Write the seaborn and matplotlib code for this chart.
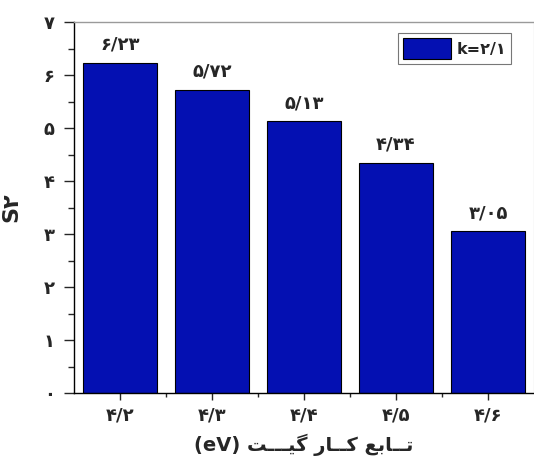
import matplotlib
matplotlib.use("Agg")
import matplotlib.pyplot as plt
from matplotlib.ticker import MultipleLocator
import seaborn as sns
import pandas as pd

# Gate work function (eV) and the S2 value at k = 2.1
work_function = [4.2, 4.3, 4.4, 4.5, 4.6]
s2_values = [6.23, 5.72, 5.13, 4.34, 3.05]
y_ticks = [0, 1, 2, 3, 4, 5, 6, 7]
legend_k = 2.1

FA_DIGITS = str.maketrans("0123456789.", "۰۱۲۳۴۵۶۷۸۹/")


def fa(value):
    """Write a number with Persian digits and a slash as decimal mark."""
    return str(value).translate(FA_DIGITS)


# "تابع کار گیت (eV)" as shaped presentation forms in left-to-right visual order
x_title = "(eV) " + \
    "\uFE96\u0640\u0640\u0640\uFBFF\uFB94" + " " + \
    "\uFEAD\uFE8E\u0640\u0640\uFB90" + " " + \
    "\uFECA\uFE91\uFE8E\u0640\u0640\uFE97"

df = pd.DataFrame({"wf": [fa(v) for v in work_function], "s2": s2_values})

sns.set_style("ticks")
plt.rcParams["font.family"] = ["DejaVu Sans"]
plt.rcParams["font.weight"] = "bold"

fig = plt.figure(figsize=(5.34, 4.59), dpi=100)
ax = fig.add_axes([74 / 534, 1 - 393 / 459, 460 / 534, 371 / 459])

sns.barplot(data=df, x="wf", y="s2", color="#0410B2", saturation=1,
            edgecolor="black", linewidth=0.8, width=0.8,
            label="k=" + fa(legend_k), ax=ax)

for i, v in enumerate(s2_values):
    ax.text(i, v + 0.17, fa(v), ha="center", va="bottom",
            fontsize=13, fontweight="bold")

ax.set_xlim(-0.5, 4.5)
ax.set_ylim(0, 7)
ax.set_yticks(y_ticks)
ax.set_yticklabels([fa(t) for t in y_ticks], fontsize=13, fontweight="bold")
ax.yaxis.set_minor_locator(MultipleLocator(0.5))
ax.set_xticks(range(len(work_function)))
ax.set_xticklabels(df["wf"], fontsize=13, fontweight="bold")
ax.set_xticks([i + 0.5 for i in range(len(work_function) - 1)], minor=True)

ax.tick_params(axis="y", which="major", direction="out", length=7, width=1, pad=7)
ax.tick_params(axis="y", which="minor", direction="out", length=4, width=1)
ax.tick_params(axis="x", which="major", direction="out", length=5, width=1, pad=5)
ax.tick_params(axis="x", which="minor", direction="out", length=3, width=1)

for side in ["left", "bottom"]:
    ax.spines[side].set_color("black")
    ax.spines[side].set_linewidth(1.0)
ax.spines["top"].set_color("#9a9a9a")
ax.spines["top"].set_linewidth(1.0)
ax.spines["right"].set_color("#9a9a9a")

ax.set_xlabel(x_title, fontsize=14, fontweight="bold", labelpad=6)
ax.set_ylabel("S" + fa(2), fontsize=16, fontweight="bold", labelpad=16)

leg = ax.legend(loc="upper right", bbox_to_anchor=(0.95, 0.97),
                fontsize=11.5, frameon=True, fancybox=False, handlelength=3.0,
                handleheight=1.7, borderpad=0.3, handletextpad=0.35,
                borderaxespad=0.0)
leg.get_frame().set_edgecolor("#555555")
leg.get_frame().set_linewidth(0.8)
for t in leg.get_texts():
    t.set_fontweight("bold")

fig.savefig("out.png", dpi=100)
